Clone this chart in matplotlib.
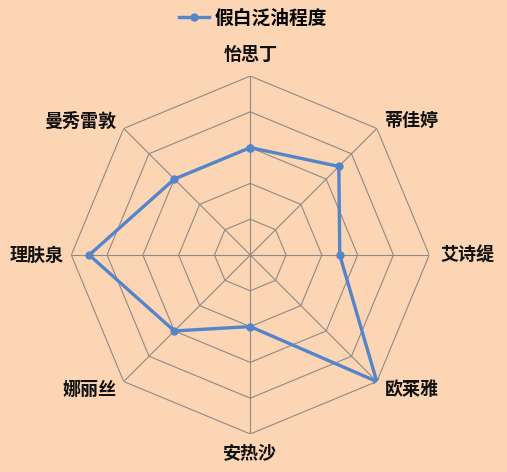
import matplotlib
matplotlib.use("Agg")
import matplotlib.pyplot as plt
import numpy as np

plt.rcParams['font.family'] = ['Noto Sans CJK SC', 'DejaVu Sans']

brands = ["怡思丁", "蒂佳婷", "艾诗缇", "欧莱雅", "安热沙", "娜丽丝", "理肤泉", "曼秀雷敦"]
scores = [3, 3.5, 2.5, 5, 2, 3, 4.5, 3]
series_name = "假白泛油程度"
rings = [1, 2, 3, 4, 5]

bg = "#FBD5B4"
line_color = "#5585C9"
grid_color = "#8F8A86"

fig = plt.figure(figsize=(5.07, 4.72), dpi=100)
fig.patch.set_facecolor(bg)
ax = fig.add_axes([0.1406, 0.0805, 0.706, 0.7585], projection="polar")
ax.set_facecolor(bg)
ax.set_theta_offset(np.pi / 2)
ax.set_theta_direction(-1)

n = len(brands)
angles = np.arange(n) * 2 * np.pi / n
closed = np.append(angles, angles[0])

# octagon grid
for r in rings:
    ax.plot(closed, [r] * (n + 1), color=grid_color, lw=0.8, zorder=1)
for a in angles:
    ax.plot([a, a], [0, rings[-1]], color=grid_color, lw=0.8, zorder=1)

vals = scores + scores[:1]
ax.plot(closed, vals, color=line_color, lw=2.4, marker="o", markersize=5,
        label=series_name, zorder=3)

ax.set_ylim(0, rings[-1])
ax.grid(False)
ax.spines["polar"].set_visible(False)
ax.set_xticks([])
ax.set_yticks([])

# category labels around the chart
label_pos = [
    (1.12, "center", "center"),
    (1.06, "left", "center"),
    (1.065, "left", "center"),
    (1.06, "left", "center"),
    (1.11, "center", "center"),
    (1.06, "right", "center"),
    (1.045, "right", "center"),
    (1.06, "right", "center"),
]
for a, name, (rf, ha, va) in zip(angles, brands, label_pos):
    ax.text(a, rings[-1] * rf, name, ha=ha, va=va, fontsize=13,
            fontweight="bold", color="#111111")

fig.legend(loc="center", bbox_to_anchor=(0.5, 0.962), frameon=False,
           handlelength=1.6, handletextpad=0.3, borderpad=0.2,
           prop={"weight": "bold", "size": 13.5})

fig.savefig("out.png", dpi=100, facecolor=bg)
